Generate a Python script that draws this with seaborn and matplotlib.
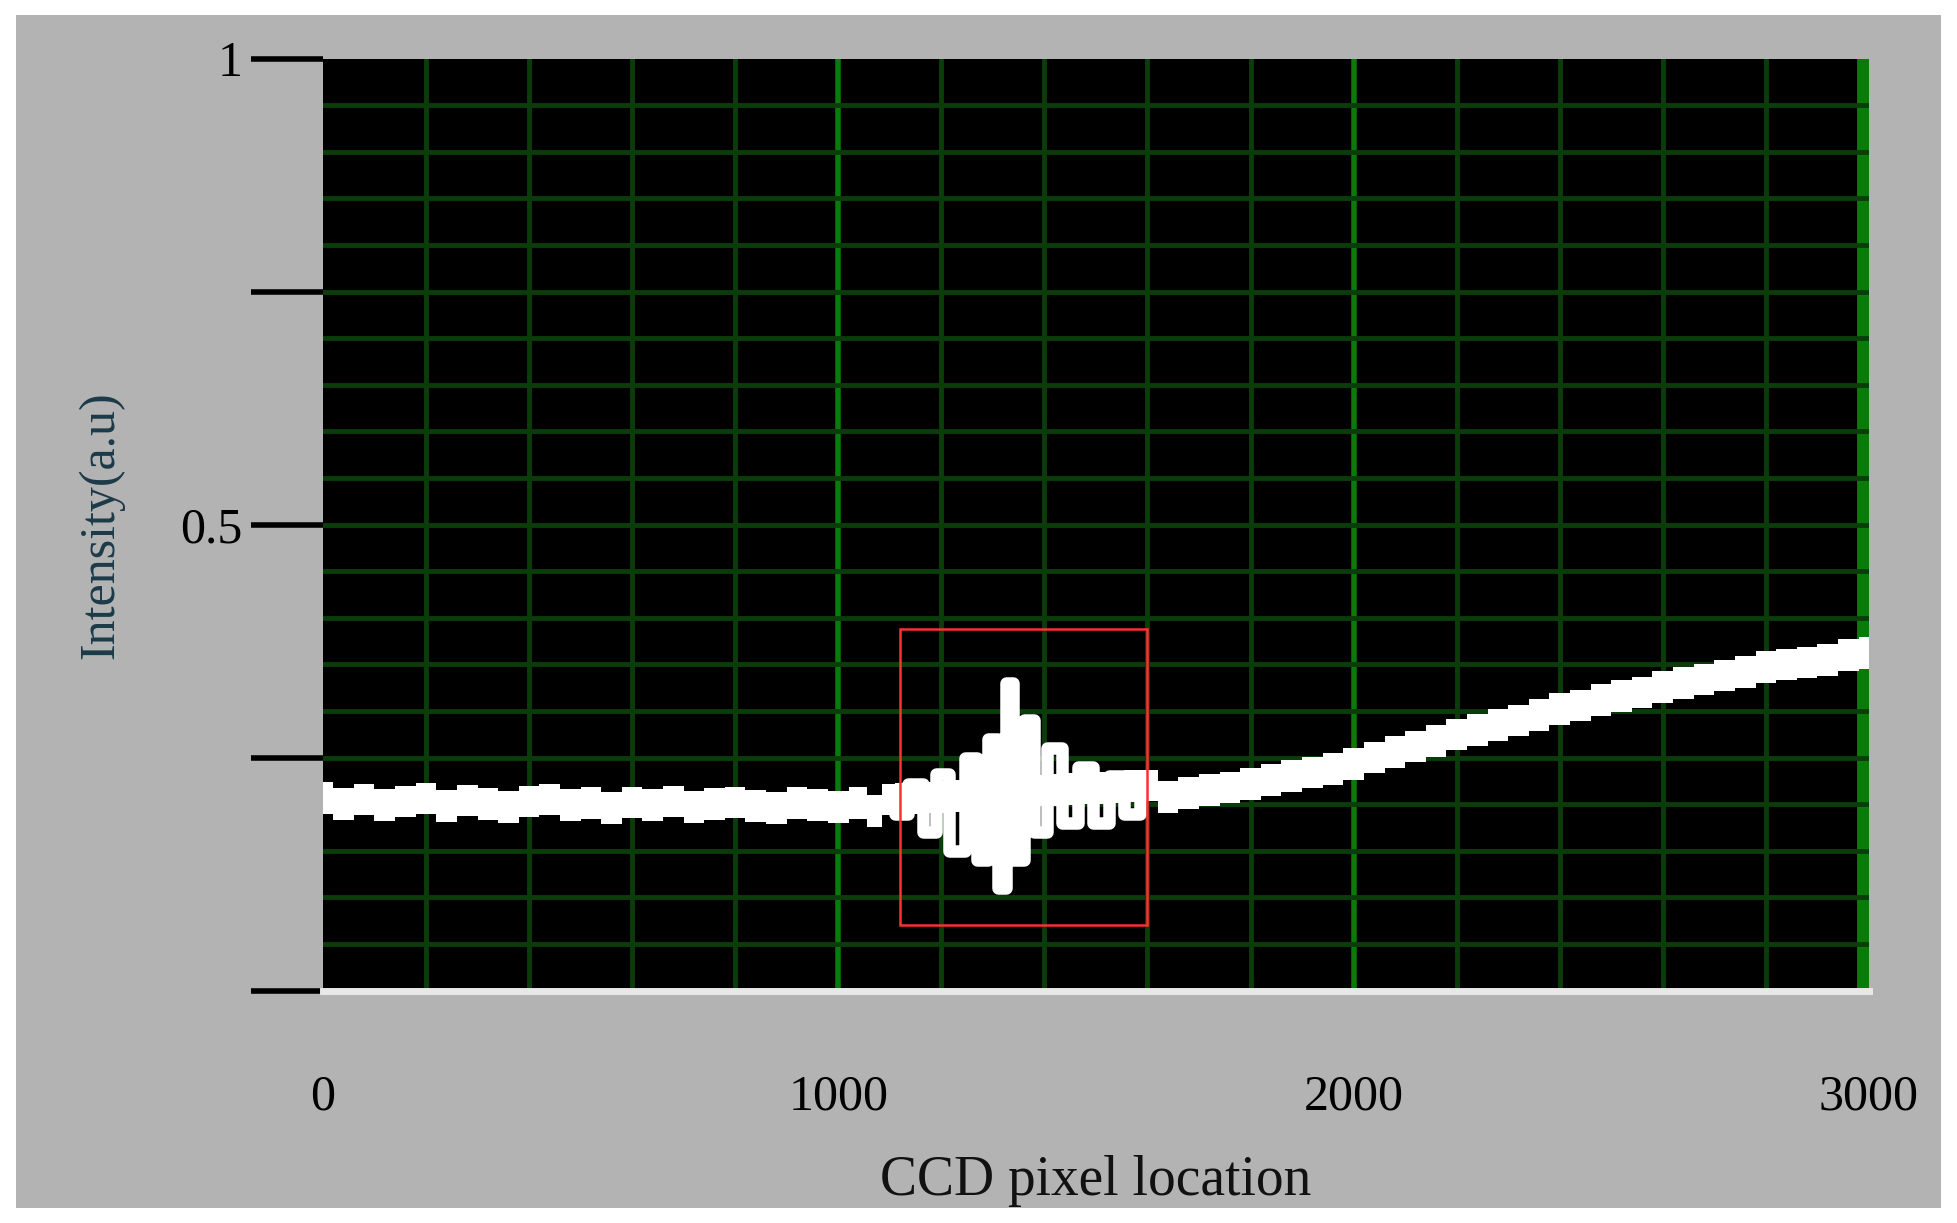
import numpy as np
import pandas as pd
import seaborn as sns
import matplotlib.pyplot as plt
from matplotlib.patches import Rectangle

sns.set_style("dark")
plt.rcParams['font.family'] = ['Liberation Serif', 'DejaVu Serif']

# signal (pixel, intensity)
pixel = [0, 40, 80, 120, 160, 200, 240, 280, 320, 360, 400, 440, 480, 520, 560, 600,
         640, 680, 720, 760, 800, 840, 880, 920, 960, 1000, 1040, 1070, 1100, 1120,
         1150, 1180, 1200, 1230, 1260, 1280, 1300, 1320, 1330, 1350, 1370, 1390, 1420,
         1450, 1480, 1510, 1540, 1570, 1600, 1640, 1680, 1720, 1760, 1800, 1840, 1880,
         1920, 1960, 2000, 2040, 2080, 2120, 2160, 2200, 2240, 2280, 2320, 2360, 2400,
         2440, 2480, 2520, 2560, 2600, 2640, 2680, 2720, 2760, 2800, 2840, 2880, 2920,
         2960, 3000]
intensity = [0.207, 0.200, 0.205, 0.199, 0.203, 0.206, 0.198, 0.204, 0.200, 0.197, 0.203,
             0.205, 0.199, 0.201, 0.196, 0.202, 0.199, 0.203, 0.197, 0.200, 0.202, 0.198,
             0.196, 0.201, 0.199, 0.197, 0.201, 0.193, 0.205, 0.190, 0.222, 0.170, 0.232,
             0.150, 0.250, 0.140, 0.270, 0.110, 0.330, 0.140, 0.290, 0.170, 0.260, 0.180,
             0.240, 0.180, 0.230, 0.190, 0.220, 0.208, 0.212, 0.215, 0.218, 0.222, 0.226,
             0.230, 0.234, 0.238, 0.243, 0.250, 0.256, 0.262, 0.268, 0.275, 0.280, 0.285,
             0.290, 0.296, 0.302, 0.306, 0.312, 0.316, 0.320, 0.326, 0.330, 0.334, 0.338,
             0.342, 0.347, 0.350, 0.352, 0.355, 0.360, 0.362]

df = pd.DataFrame({"pixel": pixel, "intensity": intensity})
burst = df[(df.pixel >= 1100) & (df.pixel <= 1600)]
calm = df.copy()
calm.loc[(calm.pixel > 1100) & (calm.pixel < 1600), "intensity"] = np.nan
calm["intensity"] = calm["intensity"].interpolate()

fig = plt.figure(figsize=(19.57, 12.23), dpi=100, facecolor="white")
bg = fig.add_axes([0.008, 0.012, 0.984, 0.976])
bg.set_facecolor("#b3b3b3")
bg.set_xticks([]); bg.set_yticks([])
for s in bg.spines.values():
    s.set_visible(False)

ax = fig.add_axes([0.165, 0.19, 0.79, 0.762])
ax.set_facecolor("black")
ax.grid(False)
for x in range(200, 3000, 200):
    major = x % 1000 == 0
    ax.axvline(x, color="#0a7a0a" if major else "#0b3d0b", lw=4 if major else 3.5, zorder=1)
ax.axvline(2990, color="#0a7a0a", lw=10, zorder=1)
for y in np.arange(0.05, 1.0, 0.05):
    ax.axhline(y, color="#0b3d0b", lw=3.5, zorder=1)

# thick noisy band
ax.fill_between(calm.pixel, calm.intensity - 0.017, calm.intensity + 0.017,
                step="mid", color="white", lw=0, zorder=3)
sns.lineplot(data=calm, x="pixel", y="intensity", ax=ax, color="white", lw=6,
             drawstyle="steps-mid", zorder=3)
# oscillation burst
sns.lineplot(data=burst, x="pixel", y="intensity", ax=ax, color="white", lw=9,
             drawstyle="steps-mid", zorder=3, solid_capstyle="butt")
ax.add_patch(Rectangle((1120, 0.07), 480, 0.318, fill=False, edgecolor="#ff3030", lw=1.8, zorder=4))

ax.set_xlim(0, 3000)
ax.set_ylim(0, 1)
ax.set_xticks([0, 1000, 2000, 3000])
ax.set_xticklabels(["0", "1000", "2000", "3000"], fontsize=36)
ax.tick_params(axis="x", length=0, pad=60, colors="black")
ax.set_yticks([0, 0.25, 0.5, 0.75, 1])
ax.set_yticklabels(["", "", "0.5", "", "1"], fontsize=36)
ax.tick_params(axis="y", length=52, width=4, color="black", labelcolor="black", pad=6, left=True)
for name, s in ax.spines.items():
    s.set_visible(name == "bottom")
ax.spines["bottom"].set_color("#e8e8e8")
ax.spines["bottom"].set_linewidth(5)
ax.set_xlabel("CCD pixel location", fontsize=40, labelpad=25, color="#111111")
ax.set_ylabel("Intensity(a.u)", fontsize=36, color="#1c3a48", labelpad=40)

fig.savefig("out.png", dpi=100, facecolor=fig.get_facecolor())
